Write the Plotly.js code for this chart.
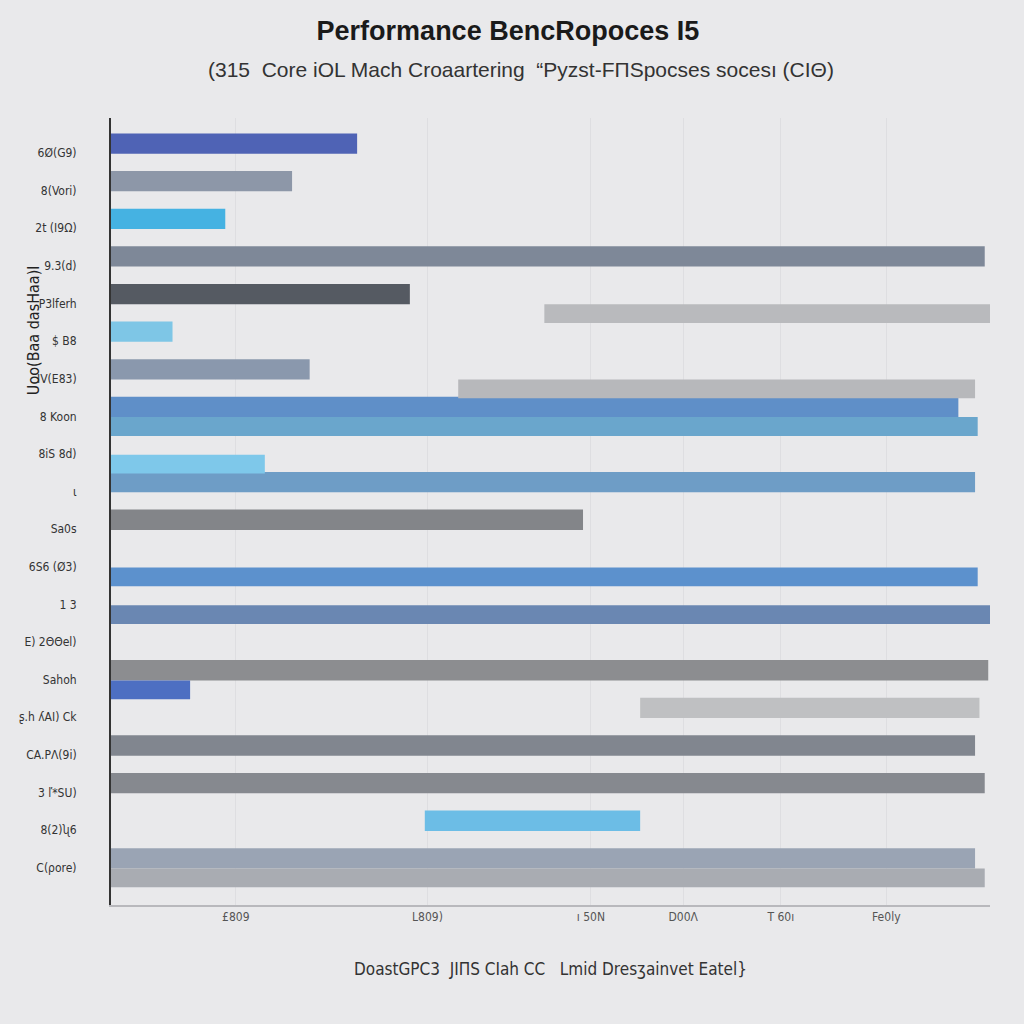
<!DOCTYPE html>
<html>
<head>
<meta charset="utf-8">
<script src="https://cdn.plot.ly/plotly-3.0.1.min.js"></script>
<style>html,body{margin:0;padding:0;background:#e9e9eb;}#chart{width:1024px;height:1024px;}</style>
</head>
<body>
<div id="chart"></div>
<script>
// Category labels (y axis, top to bottom)
const categories = ["6Ø(G9)", "8(Vori)", "2t (I9Ω)", "9.3(d)", "P3lferh", "$ B8", "IV(E83)", "8 Koon", "8iS 8d)", "ɩ", "Sa0s", "6S6 (Ø3)", "1 3", "E) 2ΘΘel)", "Sahoh", "ʂ.h ʎAI) Ck", "CA.PΛ(9i)", "3 ľ*SU)", "8(2)ʯ6", "C(ρore)"];
// Upper-slot bars: start and end values (score)
const primaryBase = [0, 0, 0, 0, 0, 0, 0, 0, null, 0, 0, null, null, null, 0, 60.2, 0, 0, 35.7, 0];
const primaryEnd  = [28, 20.6, 13, 99.4, 34, 7, 22.6, 96.4, null, 98.3, 53.7, null, null, null, 99.8, 98.8, 98.3, 99.4, 60.2, 98.3];
// Lower-slot bars: start and end values (score)
const secondaryBase = [null, null, null, null, 49.3, null, 39.5, 0, 0, null, null, 0, 0, null, 0, null, null, null, null, 0];
const secondaryEnd  = [null, null, null, null, 100, null, 98.3, 98.6, 17.5, null, null, 98.6, 100, null, 9, null, null, null, null, 99.4];
// X tick labels
const xTickVals = [14.2, 36, 54.6, 65.1, 76.2, 88.2];
const xTickText = ["£809", "L809)", "ı 50N", "D00Λ", "T 60ı", "Fe0ly"];

// styles
const primaryColors = ["#4f63b5", "#8d97a8", "#45b2e2", "#7e8898", "#555a62", "#7ec6e6", "#8a98ad", "#5f8fc8", "#ccc", "#6e9dc6", "#838589", "#ccc", "#ccc", "#ccc", "#8c8d90", "#bfc0c2", "#81868f", "#86898f", "#6cbde6", "#9aa4b4"];
const secondaryColors = ["#ccc", "#ccc", "#ccc", "#ccc", "#b9babd", "#ccc", "#b7b8bb", "#6aa6cc", "#7ec8ea", "#ccc", "#ccc", "#5c91cd", "#6a87b2", "#ccc", "#4d6fc2", "#ccc", "#ccc", "#ccc", "#ccc", "#a9acb2"];

const diff = (b, e) => e.map((v, i) => (v == null ? null : v - b[i]));

const traces = [
  {
    type: "bar", orientation: "h", y: categories, base: primaryBase, x: diff(primaryBase, primaryEnd),
    offset: -0.52, width: 0.54,
    marker: {color: primaryColors, line: {width: 0}}, hoverinfo: "x+y", showlegend: false
  },
  {
    type: "bar", orientation: "h", y: categories, base: secondaryBase, x: diff(secondaryBase, secondaryEnd),
    offset: 0.02, width: 0.5,
    marker: {color: secondaryColors, line: {width: 0}}, hoverinfo: "x+y", showlegend: false
  }
];

const layout = {
  width: 1024, height: 1024,
  paper_bgcolor: "#e9e9eb", plot_bgcolor: "#e9e9eb",
  margin: {l: 111, r: 34, t: 118, b: 119},
  barmode: "overlay",
  title: {
    text: "<b>Performance BencRopoces I5</b>",
    x: 0.496, xanchor: "center", y: 0.97, yanchor: "middle",
    font: {family: "Liberation Sans, Arial, sans-serif", size: 27, color: "#1a1a1a"}
  },
  xaxis: {
    range: [0, 100], tickvals: xTickVals, ticktext: xTickText,
    showgrid: true, gridcolor: "#dedee1", gridwidth: 1, zeroline: false,
    showline: true, linecolor: "#b8b8bc", linewidth: 2, ticks: "",
    tickfont: {family: "DejaVu Sans Condensed, sans-serif", size: 12, color: "#555"},
    title: {text: "DoastGPC3  JIΠS CIah CC   Lmid Dresʒainvet Eatel}", standoff: 40,
      font: {family: "DejaVu Sans Condensed, sans-serif", size: 17, color: "#333"}}
  },
  yaxis: {
    type: "category", autorange: false, range: [19.99, -0.93],
    showgrid: false, zeroline: false, showline: true, linecolor: "#333", linewidth: 2, ticks: "",
    tickfont: {family: "DejaVu Sans Condensed, sans-serif", size: 12, color: "#333"},
    ticklabelstandoff: 30
  },
  annotations: [
    {
      text: "(315  Core iOL Mach Croaartering  “Pyzst-FΠSpocses socesı (CIΘ)",
      xref: "paper", yref: "paper", x: 0.467, y: 1.062, xanchor: "center", yanchor: "middle",
      showarrow: false,
      font: {family: "Liberation Sans, Arial, sans-serif", size: 21, color: "#333"}
    },
    {
      text: "Uoo(Baa dasHaa)l",
      xref: "paper", yref: "paper", x: -0.088, y: 0.73, xanchor: "center", yanchor: "middle",
      textangle: -90, showarrow: false,
      font: {family: "DejaVu Sans Condensed, sans-serif", size: 16, color: "#222"}
    }
  ]
};

Plotly.newPlot("chart", traces, layout, {displayModeBar: false, staticPlot: true});
</script>
</body>
</html>
